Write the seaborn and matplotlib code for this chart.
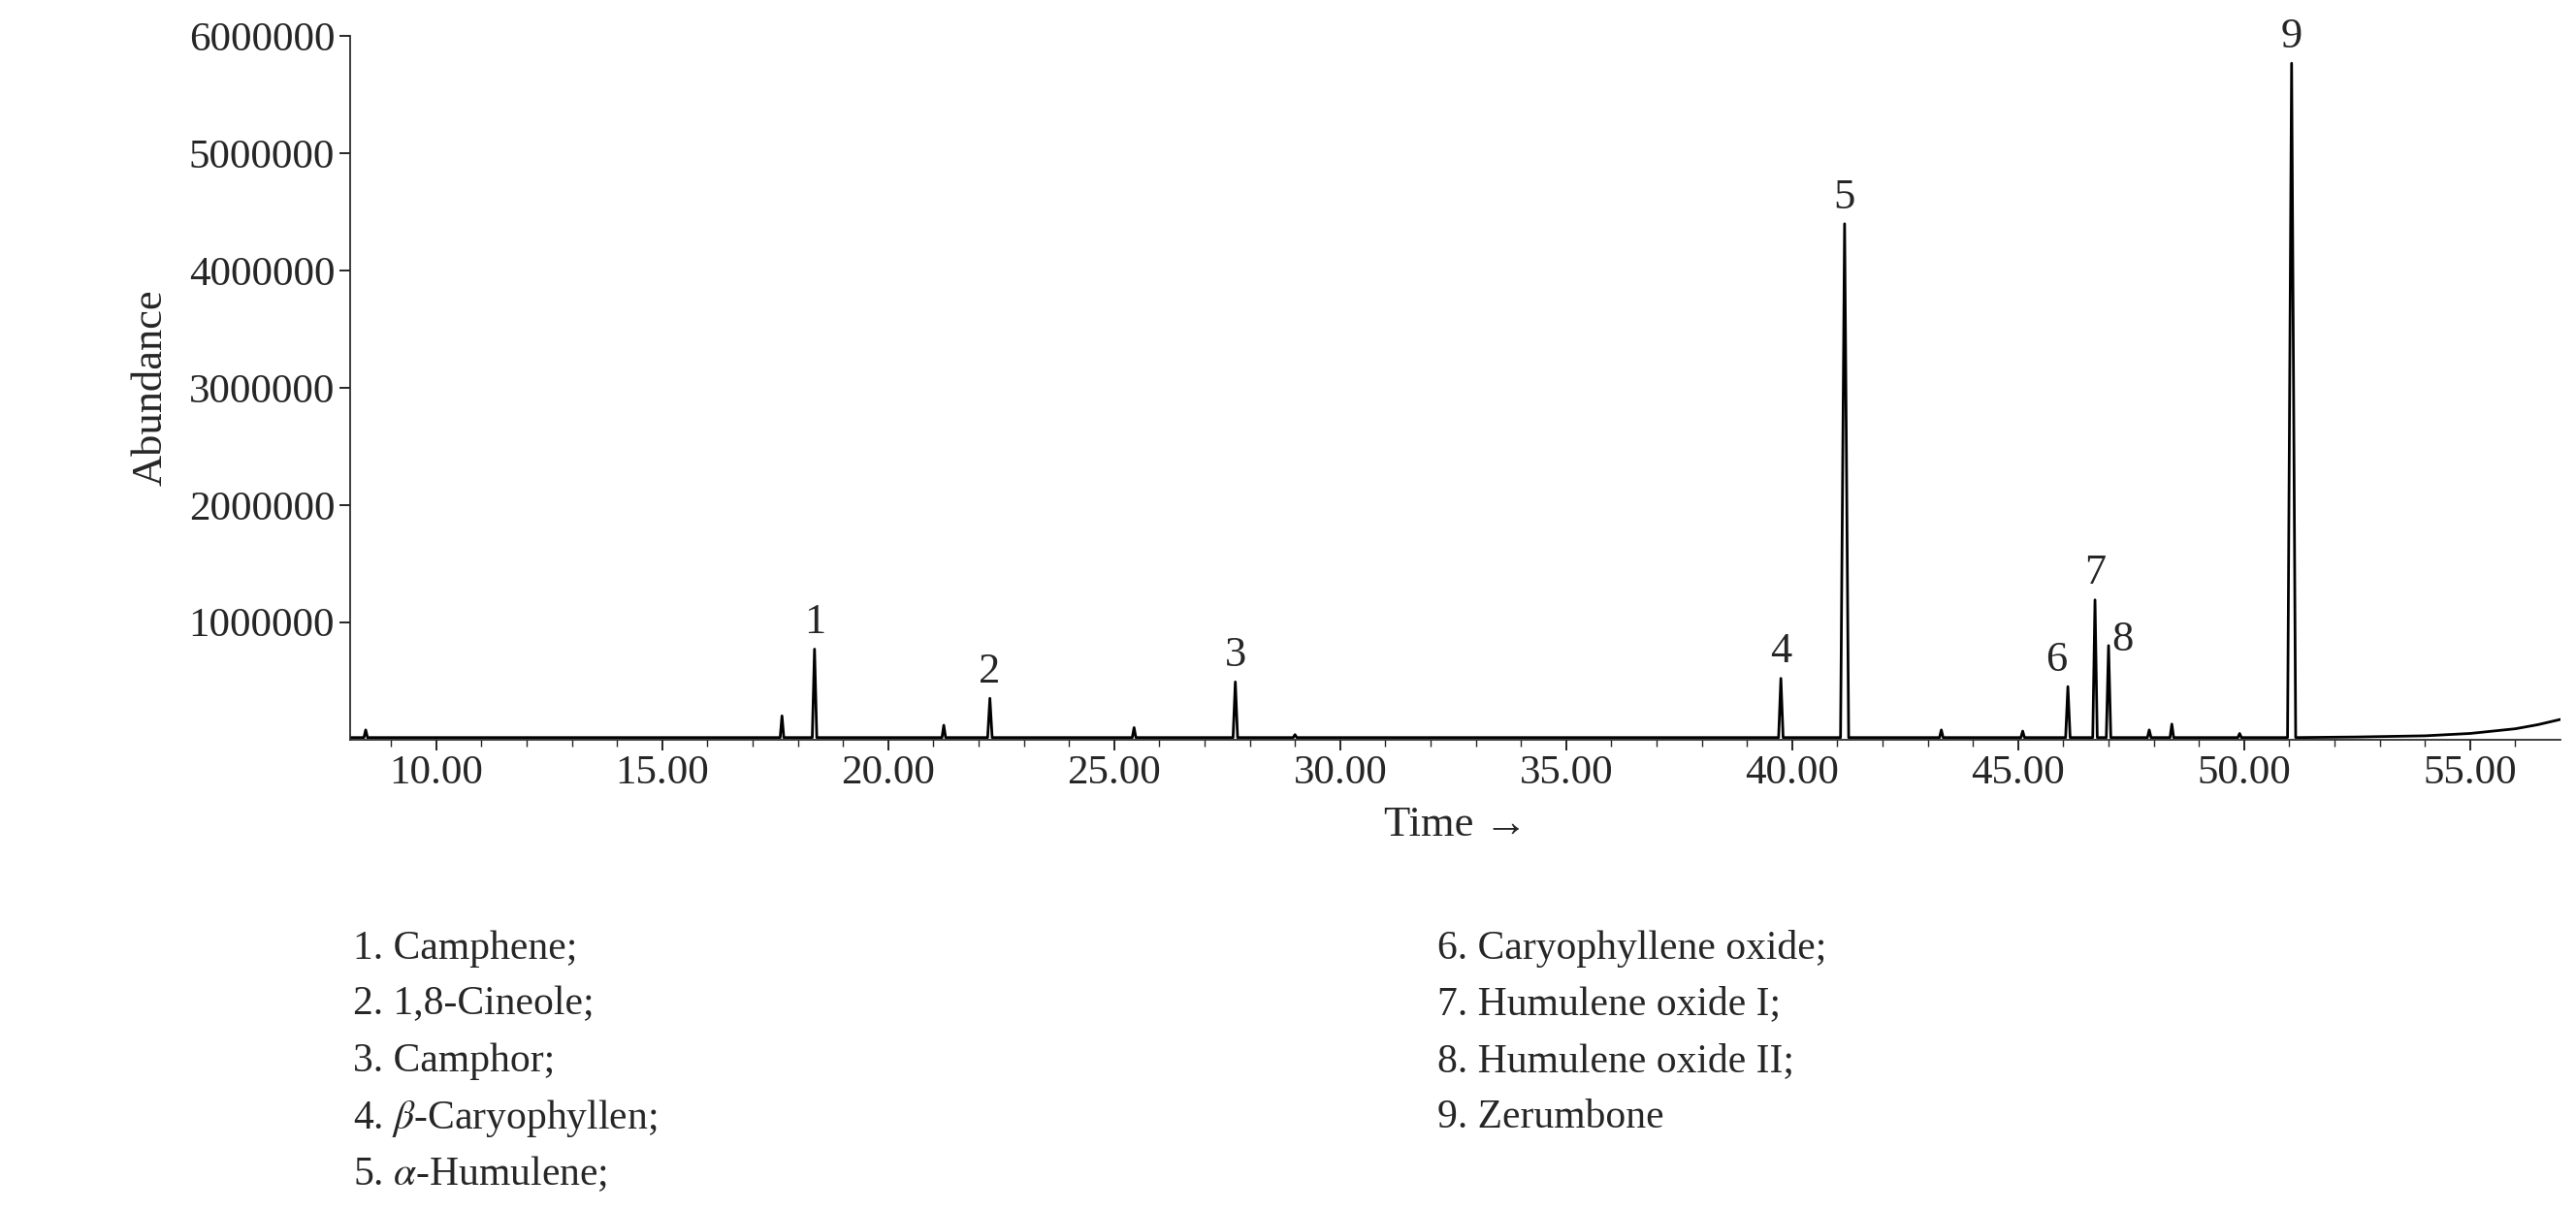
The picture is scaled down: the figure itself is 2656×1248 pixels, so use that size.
import numpy as np
import matplotlib
matplotlib.use("Agg")
import matplotlib.pyplot as plt
import seaborn as sns

# peak list (retention time, abundance)
peak_times = [8.44, 17.65, 18.37, 21.23, 22.25, 25.44, 27.68, 29.0, 39.75, 41.16,
              43.3, 45.1, 46.10, 46.70, 47.00, 47.9, 48.4, 49.9, 51.05]
peak_heights = [80000, 200000, 770000, 120000, 350000, 100000, 490000, 40000, 520000, 4400000,
                80000, 70000, 450000, 1190000, 800000, 80000, 130000, 50000, 5770000]
peak_widths = [0.04, 0.04, 0.05, 0.04, 0.05, 0.04, 0.05, 0.04, 0.05, 0.09,
               0.04, 0.04, 0.05, 0.05, 0.05, 0.04, 0.04, 0.04, 0.09]

# numbered peaks: label, time, height
label_ids = ["1", "2", "3", "4", "5", "6", "7", "8", "9"]
label_times = [18.37, 22.25, 27.68, 39.75, 41.16, 46.10, 46.70, 47.00, 51.05]
label_heights = [770000, 350000, 490000, 520000, 4400000, 450000, 1190000, 800000, 5770000]

# baseline drift at the end of the run
tail_times = [52.5, 54.0, 55.0, 56.0, 56.5, 57.0]
tail_heights = [20000, 30000, 50000, 90000, 125000, 170000]

compounds_left = ["1. Camphene;", "2. 1,8-Cineole;", "3. Camphor;",
                  r"4. $\beta$-Caryophyllen;", r"5. $\alpha$-Humulene;"]
compounds_right = ["6. Caryophyllene oxide;", "7. Humulene oxide I;",
                   "8. Humulene oxide II;", "9. Zerumbone"]

sns.set_theme(style="ticks")
plt.rcParams["font.family"] = ["Liberation Serif", "DejaVu Serif"]
plt.rcParams["mathtext.fontset"] = "stix"

# trace: baseline with triangular spikes at each peak, then the drift
xs, ys = [6.0], [15000]
for t, h, w in zip(peak_times, peak_heights, peak_widths):
    xs += [t - w, t, t + w]
    ys += [15000, h, 15000]
xs += tail_times
ys += tail_heights

fig = plt.figure(figsize=(26.56, 12.48), dpi=100)
ax = fig.add_axes([0.136, 0.389, 0.858, 0.581])
sns.lineplot(x=xs, y=ys, sort=False, estimator=None, color="black", linewidth=2.0, ax=ax)

for lab, t, h in zip(label_ids, label_times, label_heights):
    dx = {"6": -0.25, "7": 0.0, "8": 0.3}.get(lab, 0.0)
    dy = {"8": -180000}.get(lab, 0)
    ax.text(t + dx, h + 60000 + dy, lab, ha="center", va="bottom", fontsize=32)

ax.set_xlim(8.1, 57.0)
ax.set_ylim(0, 6000000)
ax.set_xticks(np.arange(10, 56, 5))
ax.set_xticklabels([f"{v:.2f}" for v in np.arange(10, 56, 5)])
ax.set_yticks(np.arange(1000000, 6000001, 1000000))
ax.set_yticklabels([str(v) for v in range(1000000, 6000001, 1000000)])
ax.set_xticks(np.arange(9, 57, 1), minor=True)
ax.tick_params(axis="both", labelsize=31, direction="out", length=8, width=1.4)
ax.tick_params(axis="x", which="minor", length=5, width=1)
ax.set_xlabel("Time \u2192", fontsize=32, labelpad=10)
ax.set_ylabel("Abundance", fontsize=32, labelpad=14)
sns.despine(ax=ax)

rows_y = [0.216, 0.170, 0.123, 0.076, 0.030]
for txt, yy in zip(compounds_left, rows_y):
    fig.text(0.137, yy, txt, fontsize=30, va="center")
for txt, yy in zip(compounds_right, rows_y):
    fig.text(0.558, yy, txt, fontsize=30, va="center")

fig.savefig("out.png", dpi=100)
